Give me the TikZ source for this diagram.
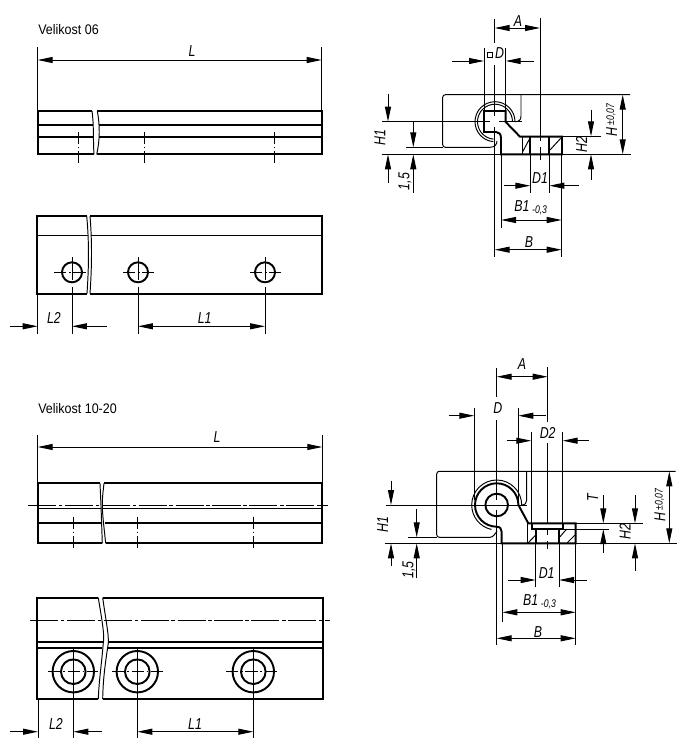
\documentclass[tikz,border=0pt]{standalone}
\usepackage{fontspec}
\usetikzlibrary{arrows.meta}
\setmainfont{Liberation Sans}[FakeStretch=0.9]
\newfontfamily\dimfont{Liberation Sans}[FakeStretch=0.78]
\tikzset{
  part/.style={black, line width=1.1pt, line join=miter},
  partthin/.style={black, line width=0.7pt},
  hair/.style={black, line width=0.55pt},
  axisline/.style={hair, dash pattern=on 16pt off 1.5pt on 2pt off 1.5pt},
  midline/.style={hair, dash pattern=on 7pt off 1.5pt on 1pt off 1.5pt},
  dimtext/.style={inner sep=0pt, font=\dimfont\itshape\fontsize{9}{10}\selectfont},
  titletext/.style={inner sep=0pt, anchor=west, font=\fontsize{7.9}{9}\selectfont},
  >={Triangle[length=3mm,width=1.2mm]}
}
\begin{document}
\begin{tikzpicture}[x=0.02cm,y=-0.02cm]
                \useasboundingbox (0,0) rectangle (685,750);

                %% Velikost 06
                \node[titletext] (title06) at (38,30) {Velikost 06};

                %front view
                \draw[part] (92,111) -- (37.7,111) -- (37.7,154.3) -- (94,154.3);
                \draw[part] (37.7,124.7) -- (93,124.7);
                \draw[part] (37.7,137) -- (93.5,137);
                \draw[part] (97.3,111) -- (321.7,111) -- (321.7,154.3) -- (96.7,154.3);
                \draw[part] (98.7,124.7) -- (321.7,124.7);
                \draw[part] (99,137) -- (321.7,137);
                \draw[hair] (92,111) .. controls (94,125) and (93,140) .. (94,154.3);
                \draw[hair] (97.3,111) .. controls (100,125) and (100,140) .. (96.7,154.3);
                \draw[midline] (78.3,131.7) -- (78.3,162.7);
                \draw[midline] (144,131.7) -- (144,162.7);
                \draw[midline] (274.3,131.7) -- (274.3,162.7);

                %L
                \draw[hair] (37.7,47) -- (37.7,111);
                \draw[hair] (321.7,47) -- (321.7,111);
                \draw[hair, <->] (37.7,60) -- (321.7,60);
                \node[dimtext] (lenA) at (192,51) {L};

                %plan view
                \draw[part] (86.7,216) -- (37.3,216) -- (37.3,293.7) -- (87,293.7);
                \draw[part] (90,216) -- (322.3,216) -- (322.3,293.7) -- (90,293.7);
                \draw[partthin] (37.3,235.3) -- (87.5,235.3);
                \draw[partthin] (91,235.3) -- (322.3,235.3);
                \draw[hair] (86.7,216) .. controls (89,240) and (89,265) .. (87,293.7);
                \draw[hair] (90,216) .. controls (92,240) and (92,265) .. (90,293.7);
                \draw[part] (72,272.3) circle[radius=10];
                \draw[part] (138,272.3) circle[radius=10];
                \draw[part] (265,272.3) circle[radius=10];
                \draw[midline] (54,272.3) -- (87,272.3);
                \draw[midline] (123,272.3) -- (154,272.3);
                \draw[midline] (250,272.3) -- (281,272.3);
                \draw[hair] (72,257) -- (72,280);
                \draw[hair] (138,257) -- (138,280);
                \draw[hair] (265,257) -- (265,280);
                \draw[hair] (72,286.7) -- (72,334);
                \draw[hair] (138,286.7) -- (138,334);
                \draw[hair] (265,286.7) -- (265,334);
                \draw[hair] (37.7,293.7) -- (37.7,334);

                %L2
                \draw[hair, ->] (10,326.3) -- (37.7,326.3);
                \draw[hair, ->] (106.7,326.3) -- (72,326.3);
                \node[dimtext] (lenBa) at (54,318) {L2};

                %L1
                \draw[hair, <->] (138,326.3) -- (265,326.3);
                \node[dimtext] (lenCa) at (204.7,318) {L1};

                %% Velikost 06, profile
                \draw[hair, rounded corners=1.5] (490,147.3) -- (442.7,147.3) -- (442.7,94.7) -- (630,94.7);
                \draw[hair] (406,147.3) -- (442.7,147.3);
                \draw[hair] (490,147.3) .. controls (495,147.3) and (497,144) .. (497,141);
                \draw[hair] (521,94.7) -- (521,116) .. controls (521,120) and (519,121.7) .. (515,121.7);
                \draw[hair] (381.7,154.3) -- (501,154.3);
                \draw[hair] (562,154.3) -- (630.7,154.3);
                \draw[hair] (382,121.7) -- (490,121.7);
                \draw[hair] (499,121.7) -- (521.7,121.7);
                \draw[hair] (515,121.7) arc[start angle=0,end angle=-265,radius=20];
                \draw[hair] (512.5,121.7) arc[start angle=0,end angle=-265,radius=17.5];
                \draw[part] (501,154.3) -- (501,138) .. controls (501,134) and (499,132) .. (496,132) -- (484,132) -- (484,111) -- (505.7,111) -- (505.7,122) -- (520,136.7) -- (562,136.7) -- (562,154.3) -- cycle;
                \draw[part] (530.3,136.7) -- (530.3,154.3);
                \draw[part] (549.3,136.7) -- (549.3,154.3);
                \draw[hair] (522.5,136.7) -- (522.5,154.3);
                \draw[hair] (522.7,151.7) -- (529.3,139.3);
                \draw[hair] (550,150) -- (560.7,138.3);

                %A
                \draw[hair] (494.7,19) -- (494.7,43);
                \draw[hair] (494.7,65) -- (494.7,116);
                \draw[hair] (494.7,127) -- (494.7,257);
                \draw[hair] (540,18) -- (540,141);
                \draw[hair] (540,147) -- (540,160);
                \draw[hair, <->] (494.7,28) -- (540,28);
                \node[dimtext] (widthA) at (518,21) {A};

                %D square
                \draw[hair] (484,48) -- (484,111);
                \draw[hair] (505.7,48) -- (505.7,111);
                \draw[hair, ->] (451.7,61) -- (484,61);
                \draw[hair, ->] (534,61) -- (505.7,61);
                \draw[hair] (487.5,52.5) rectangle (492.5,57.5);
                \node[dimtext] (bore) at (499.5,53) {D};

                %H
                \draw[hair, <->] (622.7,94.7) -- (622.7,154.3);
                \node[dimtext, rotate=90] (heightA) at (611.7,120) {H\,\raisebox{.35ex}{\fontsize{6.3}{7}\selectfont ±0,07}};

                %H2
                \draw[hair] (562,136.3) -- (600.7,136.3);
                \draw[hair, ->] (591,110) -- (591,136.3);
                \draw[hair, ->] (591,180) -- (591,154.3);
                \node[dimtext, rotate=90] (heightC) at (581.7,145) {H2};

                %H1
                \draw[hair, ->] (388,94) -- (388,121.7);
                \draw[hair, ->] (388,183) -- (388,154.3);
                \node[dimtext, rotate=90] (heightB) at (380,138) {H1};

                %1,5
                \draw[hair, ->] (413.3,120.7) -- (413.3,147.3);
                \draw[hair, ->] (413.3,192.7) -- (413.3,154.3);
                \node[dimtext, rotate=90] (gap) at (405,181.7) {1,5};

                %D1
                \draw[hair] (530.3,154.3) -- (530.3,192.7);
                \draw[hair] (549.3,154.3) -- (549.3,192.7);
                \draw[hair, ->] (504,185.7) -- (530.3,185.7);
                \draw[hair, ->] (579,185.7) -- (549.3,185.7);
                \node[dimtext] (holeA) at (540,178) {D1};

                %B1
                \draw[hair] (501,154.3) -- (501,228);
                \draw[hair] (561.7,154.3) -- (561.7,257);
                \draw[hair, <->] (501,220) -- (561.7,220);
                \node[dimtext] (baseB) at (530.7,208) {B1\,\raisebox{-.3ex}{\fontsize{6.3}{7}\selectfont -0,3}};

                %B
                \draw[hair, <->] (494.7,249.7) -- (561.7,249.7);
                \node[dimtext] (baseA) at (529,241.7) {B};

                %% Velikost 10-20
                \node[titletext] (title10) at (38,408.5) {Velikost 10-20};

                %front view
                \draw[part] (100,483.3) -- (37.7,483.3) -- (37.7,543.3) -- (102.3,543.3);
                \draw[part] (104,483.3) -- (322.3,483.3) -- (322.3,543.3) -- (105.7,543.3);
                \draw[partthin] (37.7,508.3) -- (101.3,508.3);
                \draw[partthin] (102.5,508.3) -- (322.3,508.3);
                \draw[part] (37.7,522.7) -- (102,522.7);
                \draw[part] (105,522.7) -- (322.3,522.7);
                \draw[hair] (100,483.3) .. controls (101,505) .. (102.3,543.3);
                \draw[hair] (104,483.3) .. controls (101.5,505) .. (105.7,543.3);
                \draw[axisline] (28,505) -- (327.7,505);
                \draw[midline] (73.3,516.7) -- (73.3,549.3);
                \draw[midline] (137.3,516.7) -- (137.3,549.3);
                \draw[midline] (253.3,516.7) -- (253.3,549.3);

                %L
                \draw[hair] (37.7,435) -- (37.7,483.3);
                \draw[hair] (322.3,435) -- (322.3,483.3);
                \draw[hair, <->] (37.7,447) -- (322.3,447);
                \node[dimtext] (lenB) at (217,437) {L};

                %plan view
                \draw[part] (98.3,597.7) -- (37.3,597.7) -- (37.3,699) -- (98.3,699);
                \draw[part] (102.7,597.7) -- (323,597.7) -- (323,699) -- (102.7,699);
                \draw[part] (37.3,642) -- (102.5,642);
                \draw[part] (108,642) -- (323,642);
                \draw[part] (37.3,647.7) -- (102,647.7);
                \draw[part] (107.5,647.7) -- (323,647.7);
                \draw[hair] (98.3,597.7) .. controls (101,615) and (105,635) .. (103.3,643) .. controls (101.5,665) and (99,680) .. (98.3,699);
                \draw[hair] (102.7,597.7) .. controls (105,615) and (109,635) .. (108.3,643) .. controls (105,665) and (103,680) .. (102.7,699);
                \draw[axisline] (30,620) -- (330,620);
                \draw[part] (73.3,671.7) circle[radius=20.7];
                \draw[part] (73.3,671.7) circle[radius=12.3];
                \draw[part] (137.3,671.7) circle[radius=20.7];
                \draw[part] (137.3,671.7) circle[radius=12.3];
                \draw[part] (253.3,671.7) circle[radius=20.7];
                \draw[part] (253.3,671.7) circle[radius=12.3];
                \draw[midline] (48.3,671.7) -- (98,671.7);
                \draw[midline] (112.3,671.7) -- (163,671.7);
                \draw[midline] (226,671.7) -- (278,671.7);
                \draw[hair] (73.3,649) -- (73.3,737.7);
                \draw[hair] (137.3,649) -- (137.3,737.7);
                \draw[hair] (253.3,649) -- (253.3,737.7);
                \draw[hair] (38,699) -- (38,737.7);

                %L2
                \draw[hair, ->] (10,731.7) -- (38,731.7);
                \draw[hair, ->] (101.7,731.7) -- (73.3,731.7);
                \node[dimtext] (lenBb) at (56,724.3) {L2};

                %L1
                \draw[hair, <->] (137.3,731.7) -- (253.3,731.7);
                \node[dimtext] (lenCb) at (195,724.3) {L1};

                %% Velikost 10-20, profile
                \draw[hair, rounded corners=1.5] (490,537.3) -- (436.7,537.3) -- (436.7,471.3) -- (675.7,471.3);
                \draw[hair] (408.3,537.3) -- (436.7,537.3);
                \draw[hair] (490,537.3) .. controls (493,537.3) and (495,534) .. (497,531);
                \draw[hair] (526.7,471.3) -- (526.7,500) .. controls (526.7,503) and (525,505) .. (521.7,505);
                \draw[hair] (385,543.3) -- (501.7,543.3);
                \draw[hair] (575.7,543.3) -- (677.3,543.3);
                \draw[hair] (386,505) -- (526.7,505);
                \draw[hair] (521.7,505) arc[start angle=0,end angle=-258,radius=25];
                \draw[part] (518.4,505) arc[start angle=0,end angle=-270,radius=21.7] .. controls (500,526.7) and (501.7,529) .. (501.7,532) -- (501.7,543.3) -- (575.7,543.3) -- (575.7,523.3) -- (528.3,523.3) -- (518.4,505);
                \draw[part] (496.7,505) circle[radius=11.3];
                \draw[part] (531.7,523.3) -- (531.7,529) -- (562.7,529) -- (562.7,523.3);
                \draw[part] (535.7,529) -- (535.7,543.3);
                \draw[part] (559,529) -- (559,543.3);
                \draw[hair] (527.7,523.3) -- (527.7,543.3);
                \draw[hair] (528.3,542.7) -- (535.7,535);
                \draw[hair] (560,536.7) -- (566.7,529);
                \draw[hair] (567.3,542.7) -- (575,535);

                %A
                \draw[hair] (496.7,368) -- (496.7,397);
                \draw[hair] (496.7,420) -- (496.7,500);
                \draw[hair] (496.7,510) -- (496.7,645);
                \draw[hair] (547.7,367) -- (547.7,421.7);
                \draw[hair] (547.7,443) -- (547.7,523);
                \draw[hair] (547.7,528) -- (547.7,535);
                \draw[hair] (547.7,541) -- (547.7,549);
                \draw[hair, <->] (496.7,376.7) -- (547.7,376.7);
                \node[dimtext] (widthB) at (522,364) {A};

                %D
                \draw[hair] (474.3,408) -- (474.3,500);
                \draw[hair] (518.3,408) -- (518.3,503);
                \draw[hair, ->] (449.3,415.7) -- (474.3,415.7);
                \draw[hair, ->] (545.7,415.7) -- (518.3,415.7);
                \node[dimtext] (pin) at (497.7,408) {D};

                %D2
                \draw[hair] (531.3,431.7) -- (531.3,523.3);
                \draw[hair] (562.7,431.7) -- (562.7,523.3);
                \draw[hair, ->] (506.7,440.7) -- (531.3,440.7);
                \draw[hair, ->] (589,440.7) -- (562.7,440.7);
                \node[dimtext] (holeC) at (547.7,432.7) {D2};

                %T
                \draw[hair] (562.7,529) -- (609,529);
                \draw[hair, ->] (603.3,495) -- (603.3,523.3);
                \draw[hair, ->] (603.3,553) -- (603.3,529);
                \node[dimtext, rotate=90] (depth) at (592.7,498) {T};

                %H2
                \draw[hair] (575.7,523.3) -- (643.3,523.3);
                \draw[hair, ->] (635,495) -- (635,523.3);
                \draw[hair, ->] (635,570.7) -- (635,543.3);
                \node[dimtext, rotate=90] (heightF) at (625,532) {H2};

                %H
                \draw[hair, <->] (669.3,471.3) -- (669.3,543.3);
                \node[dimtext, rotate=90] (heightD) at (660,505) {H\,\raisebox{.35ex}{\fontsize{6.3}{7}\selectfont ±0,07}};

                %H1
                \draw[hair, ->] (391,480.7) -- (391,505);
                \draw[hair, ->] (391,565.7) -- (391,543.3);
                \node[dimtext, rotate=90] (heightE) at (382.7,524.3) {H1};

                %1,5
                \draw[hair, ->] (416.7,509) -- (416.7,537.3);
                \draw[hair, ->] (416.7,578.3) -- (416.7,543.3);
                \node[dimtext, rotate=90] (gapB) at (409,570) {1,5};

                %D1
                \draw[hair] (535.7,543.3) -- (535.7,586.7);
                \draw[hair] (559,543.3) -- (559,586.7);
                \draw[hair, ->] (508.3,580) -- (535.7,580);
                \draw[hair, ->] (586.7,580) -- (559,580);
                \node[dimtext] (holeB) at (546.7,572.7) {D1};

                %B1
                \draw[hair] (502.3,543.3) -- (502.3,621.7);
                \draw[hair] (575.7,543.3) -- (575.7,645);
                \draw[hair, <->] (502.3,612.3) -- (575.7,612.3);
                \node[dimtext] (baseD) at (539.5,602) {B1\,\raisebox{-.3ex}{\fontsize{6.3}{7}\selectfont -0,3}};

                %B
                \draw[hair, <->] (496.7,638.3) -- (575.7,638.3);
                \node[dimtext] (baseC) at (538,631.7) {B};

            \end{tikzpicture}
\end{document}
